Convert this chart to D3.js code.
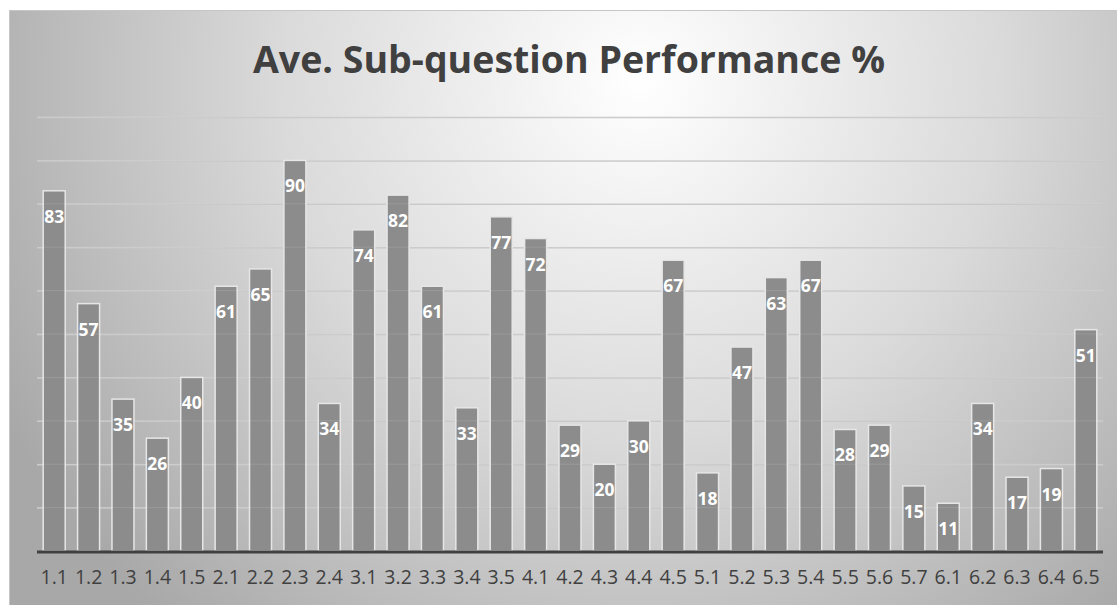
<!DOCTYPE html>
<html><head><meta charset="utf-8">
<script src="https://cdn.jsdelivr.net/npm/d3@7"></script>
<style>html,body{margin:0;padding:0;background:#fff;}svg{display:block;}</style>
</head><body>
<svg id="c" width="1117" height="605"></svg>
<script>
const title = "Ave. Sub-question Performance %";
const categories = ["1.1","1.2","1.3","1.4","1.5","2.1","2.2","2.3","2.4","3.1","3.2","3.3","3.4","3.5","4.1","4.2","4.3","4.4","4.5","5.1","5.2","5.3","5.4","5.5","5.6","5.7","6.1","6.2","6.3","6.4","6.5"];
const values = [83,57,35,26,40,61,65,90,34,74,82,61,33,77,72,29,20,30,67,18,47,63,67,28,29,15,11,34,17,19,51];
const gridTicks = [10,20,30,40,50,60,70,80,90,100];

(function(){
const svg = d3.select("#c");
const defs = svg.append("defs");
const rg = defs.append("radialGradient").attr("id","bg")
  .attr("gradientUnits","userSpaceOnUse").attr("cx",640).attr("cy",80).attr("r",720);
rg.append("stop").attr("offset","0").attr("stop-color","#ffffff");
rg.append("stop").attr("offset","0.5").attr("stop-color","#dadada");
rg.append("stop").attr("offset","1").attr("stop-color","#a8a8a8");
const gg = defs.append("linearGradient").attr("id","gl")
  .attr("gradientUnits","userSpaceOnUse").attr("x1",0).attr("y1",110).attr("x2",0).attr("y2",515);
gg.append("stop").attr("offset","0").attr("stop-color","#c8c8c8");
gg.append("stop").attr("offset","1").attr("stop-color","#5e5e5e");

svg.append("rect").attr("x",9.5).attr("y",10.5).attr("width",1115).attr("height",600)
  .attr("fill","url(#bg)").attr("stroke","#c6c6c6").attr("stroke-width",1);

const pL = 37, pR = 1103, pT = 117, pB = 551;
const x = d3.scaleBand().domain(categories).range([pL,pR]).paddingInner(0.36).paddingOuter(0.18);
const y = d3.scaleLinear().domain([0,100]).range([pB,pT]);

svg.append("text").attr("x",569).attr("y",73).attr("text-anchor","middle")
  .attr("font-family","'Open Sans', sans-serif").attr("font-weight",700).attr("font-size",37.5)
  .attr("fill","#404040").text(title);

const grid = svg.append("g").attr("transform",`translate(${pL},0)`)
  .call(d3.axisLeft(y).tickValues(gridTicks).tickSize(-(pR-pL)).tickFormat(""));
grid.select(".domain").remove();
grid.selectAll("line").attr("stroke","url(#gl)").attr("stroke-width",1.5);

svg.append("g").selectAll("rect").data(values).join("rect")
  .attr("x",(d,i)=>x(categories[i]))
  .attr("y",d=>y(d))
  .attr("width",x.bandwidth())
  .attr("height",d=>pB-y(d))
  .attr("fill","#8c8c8c").attr("stroke","#e6e6e6").attr("stroke-width",1.5);

svg.append("g").selectAll("line").data(gridTicks).join("line")
  .attr("x1",pL).attr("x2",pR).attr("y1",d=>y(d)).attr("y2",d=>y(d))
  .attr("stroke","#ffffff").attr("stroke-opacity",0.12).attr("stroke-width",1);

svg.append("g").selectAll("text").data(values).join("text")
  .attr("x",(d,i)=>x(categories[i])+x.bandwidth()/2)
  .attr("y",d=>y(d)+32)
  .attr("text-anchor","middle")
  .attr("font-family","'Open Sans', sans-serif").attr("font-weight",700).attr("font-size",17.5)
  .attr("fill","#ffffff").text(d=>d);

const xa = svg.append("g").attr("transform",`translate(0,${pB})`)
  .call(d3.axisBottom(x).tickSize(0).tickPadding(19));
xa.select(".domain").remove();
xa.selectAll("text").attr("font-family","'Open Sans', sans-serif").attr("font-size",19.5).attr("fill","#404040");
svg.append("line").attr("x1",pL).attr("x2",pR).attr("y1",pB+1).attr("y2",pB+1)
  .attr("stroke","#404040").attr("stroke-width",3);
})();
</script>
</body></html>
